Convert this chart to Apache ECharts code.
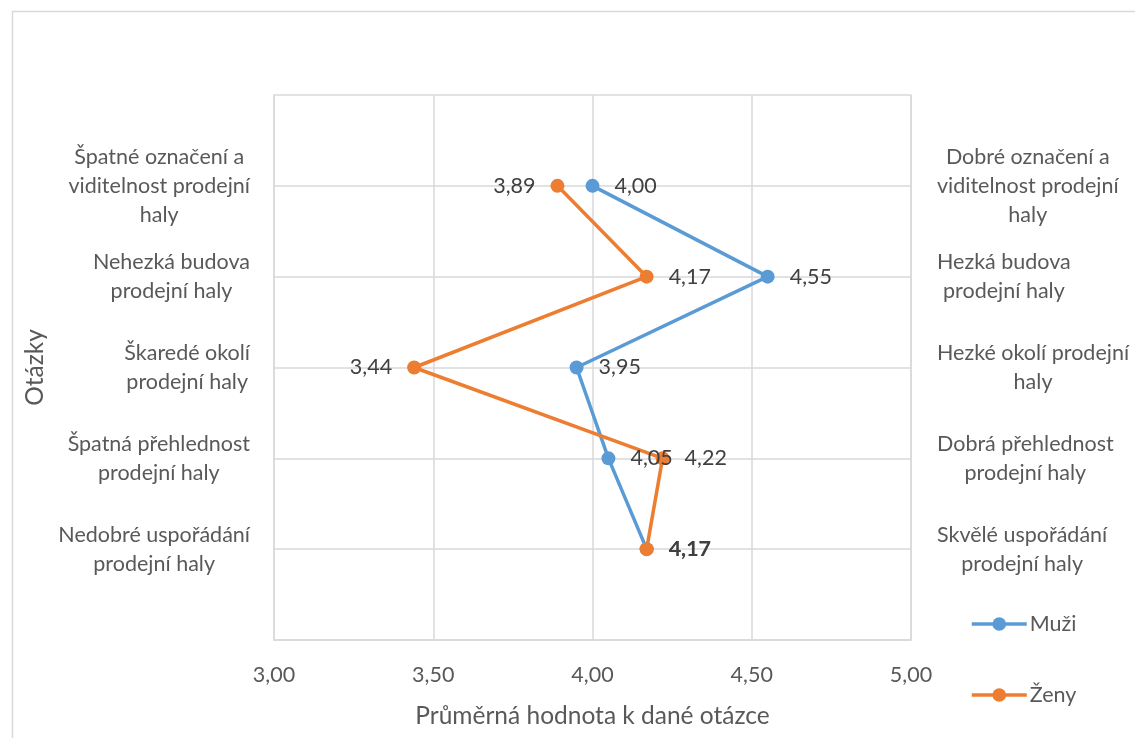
<!DOCTYPE html>
<html>
<head>
<meta charset="utf-8">
<script src="https://cdn.jsdelivr.net/npm/echarts@6/dist/echarts.min.js"></script>
<style>html,body{margin:0;padding:0;background:#fff}#c{width:1135px;height:738px}</style>
</head>
<body>
<div id="c"></div>
<script>
// Data
var leftLabels = [
  'Nedobré uspořádání\nprodejní haly',
  'Špatná přehlednost\nprodejní haly',
  'Škaredé okolí\nprodejní haly',
  'Nehezká budova\nprodejní haly',
  'Špatné označení a\nviditelnost prodejní\nhaly'
];
var rightLabels = [
  'Skvělé uspořádání\nprodejní haly',
  'Dobrá přehlednost\nprodejní haly',
  'Hezké okolí prodejní\nhaly',
  'Hezká budova\nprodejní haly',
  'Dobré označení a\nviditelnost prodejní\nhaly'
];
// question positions (1 = bottom ... 5 = top)
var questionPos = [5, 4, 3, 2, 1];
var muzi = [4.00, 4.55, 3.95, 4.05, 4.17];
var zeny = [3.89, 4.17, 3.44, 4.22, 4.17];
var zenyLabelSide = ['left', 'right', 'left', 'right', 'right'];
var xTicks = [3.00, 3.50, 4.00, 4.50, 5.00];

var FONT = 'Lato';
var TXT = '#595959';
var FS = 21.5;

function richify(s) {
  return s.split('\n').map(function (l) { return '{c|' + l + '}'; }).join('\n');
}

var muziData = muzi.map(function (v, i) {
  var d = { value: [v, questionPos[i]] };
  if (i === muzi.length - 1) d.label = { fontWeight: 'bold' };
  return d;
});
var zenyData = zeny.map(function (v, i) {
  return { value: [v, questionPos[i]], label: { position: zenyLabelSide[i] } };
});

var chart = echarts.init(document.getElementById('c'));
chart.setOption({
  animation: false,
  textStyle: { fontFamily: FONT },
  graphic: [{
    type: 'rect', left: 10, top: 9, silent: true,
    shape: { width: 1300, height: 900 },
    style: { fill: 'none', stroke: '#d9d9d9', lineWidth: 1.5 }
  }],
  grid: { left: 274, right: 224, top: 95, bottom: 98 },
  legend: {
    orient: 'vertical', left: 970, top: 613, padding: 0,
    itemWidth: 55, itemHeight: 17, itemGap: 49,
    lineStyle: { width: 3.5 },
    textStyle: { fontFamily: FONT, fontSize: FS, color: TXT, padding: [0, 0, 0, -2] },
    data: ['Muži', 'Ženy']
  },
  xAxis: {
    type: 'value', min: 3, max: 5, interval: 0.5,
    name: 'Průměrná hodnota k dané otázce', nameLocation: 'middle', nameGap: 64,
    nameTextStyle: { fontFamily: FONT, fontSize: 24.5, color: TXT },
    axisLine: { show: true, lineStyle: { color: '#d9d9d9', width: 1.5 } },
    axisTick: { show: false },
    splitLine: { lineStyle: { color: '#d9d9d9', width: 1.5 } },
    axisLabel: {
      margin: 24, fontSize: FS, color: TXT, fontFamily: FONT,
      formatter: function (v) { return v.toFixed(2).replace('.', ','); }
    }
  },
  yAxis: [{
    type: 'value', min: 0, max: 6, interval: 1, position: 'left',
    name: 'Otázky', nameLocation: 'middle', nameGap: 226,
    nameTextStyle: { fontFamily: FONT, fontSize: 24.5, color: TXT },
    axisLine: { show: true, lineStyle: { color: '#d9d9d9', width: 1.5 } },
    axisTick: { show: false },
    splitLine: { lineStyle: { color: '#d9d9d9', width: 1.5 } },
    axisLabel: {
      margin: 24, align: 'right', color: TXT, fontSize: FS, fontFamily: FONT, lineHeight: 29,
      formatter: function (v) { return (v >= 1 && v <= 5) ? richify(leftLabels[v - 1]) : ''; },
      rich: { c: { align: 'center', fontSize: FS, color: TXT, fontFamily: FONT, lineHeight: 29 } }
    }
  }, {
    type: 'value', min: 0, max: 6, interval: 1, position: 'right',
    axisLine: { show: true, lineStyle: { color: '#d9d9d9', width: 1.5 } },
    axisTick: { show: false },
    splitLine: { show: false },
    axisLabel: {
      margin: 26, align: 'left', color: TXT, fontSize: FS, fontFamily: FONT, lineHeight: 29,
      formatter: function (v) { return (v >= 1 && v <= 5) ? richify(rightLabels[v - 1]) : ''; },
      rich: { c: { align: 'center', fontSize: FS, color: TXT, fontFamily: FONT, lineHeight: 29 } }
    }
  }],
  series: [{
    name: 'Muži', type: 'line', data: muziData,
    symbol: 'circle', symbolSize: 14,
    itemStyle: { color: '#5b9bd5' },
    lineStyle: { color: '#5b9bd5', width: 3.5 },
    label: {
      show: true, position: 'right', distance: 15, fontSize: FS, color: '#404040', fontFamily: FONT,
      formatter: function (p) { return p.value[0].toFixed(2).replace('.', ','); }
    },
    z: 2
  }, {
    name: 'Ženy', type: 'line', data: zenyData,
    symbol: 'circle', symbolSize: 14,
    itemStyle: { color: '#ed7d31' },
    lineStyle: { color: '#ed7d31', width: 3.5 },
    label: {
      show: true, distance: 15, fontSize: FS, color: '#404040', fontFamily: FONT,
      formatter: function (p) { return p.value[0].toFixed(2).replace('.', ','); }
    },
    z: 2
  }]
});
</script>
</body>
</html>
